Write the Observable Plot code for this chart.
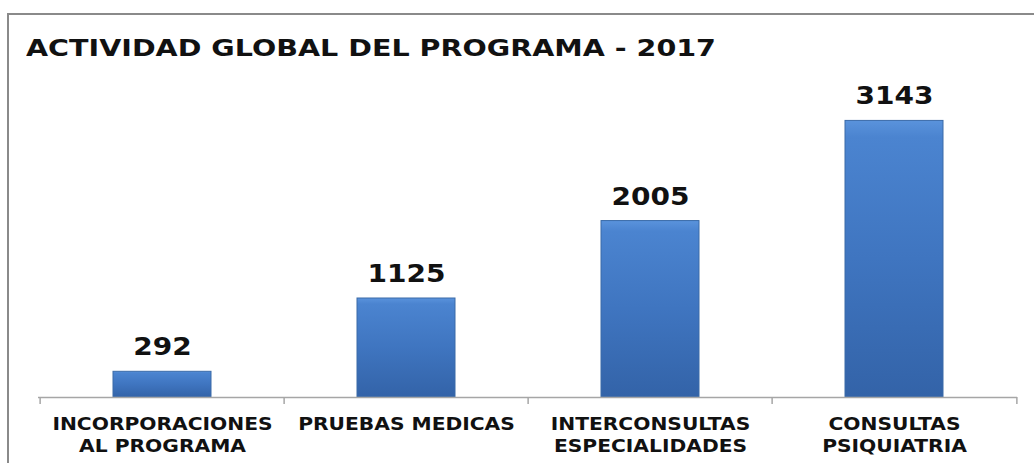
<!DOCTYPE html>
<html><head><meta charset="utf-8">
<script src="https://cdn.jsdelivr.net/npm/d3@7"></script>
<script src="https://cdn.jsdelivr.net/npm/@observablehq/plot@0.6"></script>
<style>
body{margin:0;background:#fff;}
#wrap{position:relative;width:1034px;height:463px;overflow:hidden;background:#fff;}
#border{position:absolute;left:7px;top:13px;width:1100px;height:500px;border:2px solid #8a8a8a;box-sizing:border-box;pointer-events:none;}
#title{position:absolute;left:26px;top:36.5px;font-family:"DejaVu Sans";font-weight:bold;font-size:23px;line-height:1;color:#111;white-space:nowrap;transform-origin:left top;}
#chart{position:absolute;left:0;top:0;}
</style></head>
<body>
<div id="wrap"><div id="border"></div><div id="title"></div><div id="chart"></div></div>
<script>
const title = "ACTIVIDAD GLOBAL DEL PROGRAMA - 2017";
const categories = ["INCORPORACIONES\nAL PROGRAMA", "PRUEBAS MEDICAS", "INTERCONSULTAS\nESPECIALIDADES", "CONSULTAS\nPSIQUIATRIA"];
const values = [292, 1125, 2005, 3143];

const data = categories.map((c, i) => ({cat: c, value: values[i]}));
const W = 1034, H = 463, ML = 38, MR = 17;
const step = (W - ML - MR) / categories.length;

const chart = Plot.plot({
  width: W, height: H,
  marginLeft: ML, marginRight: MR, marginTop: 89, marginBottom: 66,
  x: {domain: categories, paddingInner: 0.6, paddingOuter: 0.3, axis: null},
  y: {domain: [0, 3500], axis: null},
  style: {fontFamily: "DejaVu Sans", background: "transparent", overflow: "visible"},
  marks: [
    Plot.barY(data, {x: "cat", y: "value", fill: "url(#barGrad)", stroke: "#3a6aa8", strokeWidth: 1}),
    Plot.ruleY([0], {stroke: "#a6a6a6", strokeWidth: 1.5}),
    Plot.ruleX(categories, {x: d => d, dx: -step / 2, y1: 0, y2: 0, insetBottom: -7, stroke: "#a6a6a6", strokeWidth: 1.5}),
    Plot.ruleX(categories.slice(-1), {x: d => d, dx: step / 2, y1: 0, y2: 0, insetBottom: -7, stroke: "#a6a6a6", strokeWidth: 1.5}),
    Plot.text(data, {x: "cat", y: "value", text: d => String(d.value), lineAnchor: "bottom", dy: -16.5, fontSize: 25, fontWeight: "bold", fill: "#111", className: "vlab"}),
    Plot.text(data, {x: "cat", text: "cat", frameAnchor: "bottom", lineAnchor: "top", dy: 18, fontSize: 17, fontWeight: "bold", lineHeight: 1.24, fill: "#111", className: "clab"})
  ]
});

// gradient definition for the bevelled blue bars
const ns = "http://www.w3.org/2000/svg";
const defs = document.createElementNS(ns, "defs");
defs.innerHTML = `<linearGradient id="barGrad" x1="0" y1="0" x2="0" y2="1">
  <stop offset="0" stop-color="#5a93dc"/>
  <stop offset="0.06" stop-color="#4b84d0"/>
  <stop offset="0.5" stop-color="#3f75c0"/>
  <stop offset="1" stop-color="#3363a8"/>
</linearGradient>`;
chart.insertBefore(defs, chart.firstChild);
document.getElementById("chart").appendChild(chart);

const t = document.getElementById("title");
t.textContent = title;
const tw = t.getBoundingClientRect().width;
t.style.transform = `scaleX(${690 / tw})`;

function stretch(sel, f) {
  chart.querySelectorAll(sel).forEach(g => {
    g.querySelectorAll("text").forEach(tx => {
      const spans = tx.querySelectorAll("tspan");
      const items = spans.length ? Array.from(spans) : [tx];
      items.forEach(el => {
        const L = el.getComputedTextLength();
        el.setAttribute("textLength", L * f);
        el.setAttribute("lengthAdjust", "spacingAndGlyphs");
      });
    });
  });
}
stretch(".vlab", 1.12);
stretch(".clab", 1.19);
</script>
</body></html>
